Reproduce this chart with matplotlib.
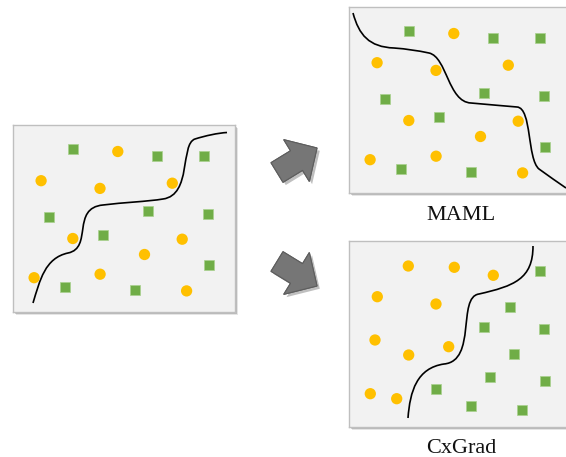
import matplotlib
matplotlib.use("Agg")
import matplotlib.pyplot as plt
from matplotlib.patches import Rectangle, FancyArrow, PathPatch
from matplotlib.path import Path
import matplotlib.patheffects as pe

# ---------------- data (panel-relative coordinates, y grows downward) -------------
# input / MAML point set
in_sq_x = [59.7, 144.3, 190.5, 35.5, 134.8, 194.6, 90.0, 196.0, 52.1, 122.3]
in_sq_y = [24.2, 30.7, 30.5, 91.5, 85.9, 88.5, 109.9, 140.0, 161.7, 165.3]
in_ci_x = [104.8, 28.1, 87.0, 159.3, 59.8, 169.2, 131.5, 21.1, 87.1, 173.6]
in_ci_y = [26.5, 55.7, 63.4, 58.2, 113.5, 114.2, 129.5, 152.7, 149.2, 165.9]

# CxGrad point set
cx_ci_x = [59.3, 105.3, 144.3, 28.3, 87.0, 26.0, 59.7, 99.7, 21.3, 47.7]
cx_ci_y = [25.0, 26.3, 34.3, 55.7, 63.0, 99.0, 114.0, 105.7, 152.7, 157.7]
cx_sq_x = [190.7, 161.3, 135.0, 195.0, 164.7, 140.7, 196.3, 87.3, 122.3, 173.3]
cx_sq_y = [30.3, 66.3, 86.0, 88.3, 113.0, 136.0, 140.3, 147.7, 165.0, 169.3]

# decision boundaries: start point then cubic Bezier triples (c1, c2, end)
left_curve = [(20, 178),
              (27, 155), (32, 133), (55, 128),
              (80, 123), (58, 83), (90, 80),
              (110, 77.5), (135, 76.5), (150, 74),
              (179, 70), (167, 19), (182, 14),
              (192.5, 10.7), (205, 8), (214, 7.5)]
maml_curve = [(4, 6),
              (10, 28), (20, 40), (45, 41),
              (58, 42), (68, 43.5), (80, 46),
              (98, 50), (99, 95), (122, 96),
              (140, 97.5), (155, 99), (168, 100),
              (183, 101), (178, 152), (190, 162),
              (200, 169), (208, 175), (217, 181)]
cx_curve = [(59, 177),
            (61, 150), (68, 127), (95, 123),
            (128, 120), (108, 56), (130, 53),
            (165, 45), (184, 38), (184, 5)]

labels = ["MAML", "CxGrad"]

# ---------------- styling ---------------------------------------------------------
W, H = 566, 457
GREEN = "#70AD47"
GOLD = "#FFC000"
PANEL_BG = "#F2F2F2"
PANEL_EDGE = "#BFBFBF"
PW, PH = 222, 187

fig = plt.figure(figsize=(W / 100, H / 100), dpi=100)
bg = fig.add_axes([0, 0, 1, 1])
bg.set_xlim(0, W)
bg.set_ylim(H, 0)
bg.axis("off")

panels = [(13, 125, PW, PH), (349, 7, PW, 186), (349, 241, PW, 186)]

# shadows under panels
for (x, y, w, h) in panels:
    bg.add_patch(Rectangle((x + 3, y + 3), w, h, facecolor="#000000", alpha=0.10,
                           edgecolor="none", zorder=1))
    bg.add_patch(Rectangle((x + 2, y + 2), w, h, facecolor="#000000", alpha=0.18,
                           edgecolor="none", zorder=1))

# arrows
arrow_kw = dict(width=23, head_width=49, head_length=24, length_includes_head=True,
                facecolor="#767676", edgecolor="#5E5E5E", linewidth=0.8, zorder=2,
                path_effects=[pe.withSimplePatchShadow(offset=(2, -2), shadow_rgbFace="#000000",
                                                       alpha=0.25), pe.Normal()])
bg.add_patch(FancyArrow(277, 172.5, 40, -24.5, **arrow_kw))
bg.add_patch(FancyArrow(277, 261.5, 40, 24.5, **arrow_kw))

# labels
bg.text(460.5, 220, labels[0], ha="center", va="baseline", fontsize=16,
        family=["Liberation Serif", "DejaVu Serif"], color="#111111")
bg.text(461, 453, labels[1], ha="center", va="baseline", fontsize=16,
        family=["Liberation Serif", "DejaVu Serif"], color="#111111")


def make_panel(rect, sq_x, sq_y, ci_x, ci_y, curve):
    x, y, w, h = rect
    ax = fig.add_axes([x / W, 1 - (y + h) / H, w / W, h / H])
    ax.set_xlim(0, PW)
    ax.set_ylim(h, 0)
    ax.set_facecolor(PANEL_BG)
    ax.set_xticks([])
    ax.set_yticks([])
    for s in ax.spines.values():
        s.set_color(PANEL_EDGE)
        s.set_linewidth(1.0)
    codes = [Path.MOVETO] + [Path.CURVE4] * (len(curve) - 1)
    ax.add_patch(PathPatch(Path(curve, codes), facecolor="none", edgecolor="black",
                           linewidth=1.2, zorder=2))
    ax.scatter(sq_x, sq_y, marker="s", s=58, color=GREEN, edgecolors="#A9D18E",
               linewidths=0.5, zorder=3)
    ax.scatter(ci_x, ci_y, marker="o", s=66, color=GOLD, edgecolors="none", zorder=3)
    return ax


make_panel(panels[0], in_sq_x, in_sq_y, in_ci_x, in_ci_y, left_curve)
make_panel(panels[1], in_sq_x, in_sq_y, in_ci_x, in_ci_y, maml_curve)
make_panel(panels[2], cx_sq_x, cx_sq_y, cx_ci_x, cx_ci_y, cx_curve)

fig.savefig("out.png", dpi=100, facecolor="white")
